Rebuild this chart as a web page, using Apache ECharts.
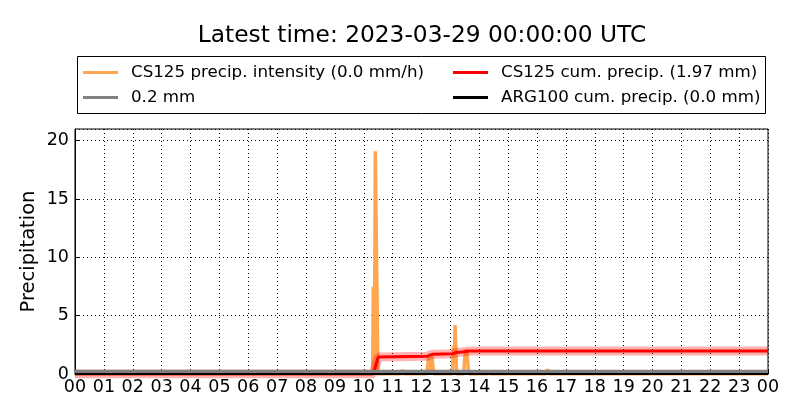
<!DOCTYPE html>
<html>
<head>
<meta charset="utf-8">
<script src="https://cdn.jsdelivr.net/npm/echarts@6/dist/echarts.min.js"></script>
<style>
html,body{margin:0;padding:0;background:#fff;}
#chart{width:800px;height:420px;}
</style>
</head>
<body>
<div id="chart"></div>
<script>
// ---- data ----
const hourLabels = ['00','01','02','03','04','05','06','07','08','09','10','11','12','13','14','15','16','17','18','19','20','21','22','23','00'];
const yTicks = [0, 5, 10, 15, 20];

const intensityHours  = [0, 10.31, 10.33, 10.37, 10.40, 10.45, 10.49, 11.30, 11.35, 11.40, 12.18, 12.26, 12.31, 12.36, 12.42, 13.07, 13.11, 13.14, 13.16, 13.18, 13.22, 13.46, 13.52, 13.58, 13.63, 14.30, 14.34, 14.38, 16.32, 16.37, 16.42, 24];
const intensityValues = [0, 0,     7.5,   0.3,   19.1,  19.1,  0,     0,     0.35,  0,     0,     1.6,   0.3,   1.55,  0,     0,     2.4,   1.0,   4.2,   4.2,   0,     0,     2.1,   1.8,   0,     0,     0.3,   0,     0,     0.4,   0,     0];

const cumHours  = [0, 10.33, 10.40, 10.50, 12.20, 12.28, 12.40, 13.10, 13.20, 13.50, 13.62, 24];
const cumValues = [0, 0,     0.6,   1.45,  1.52,  1.62,  1.70,  1.74,  1.85,  1.90,  1.97,  1.97];

const thresholdHours = [0, 24];
const thresholdValues = [0.2, 0.2];
const argHours = [0, 24];
const argValues = [0, 0];

const names = {
  intensity: 'CS125 precip. intensity (0.0 mm/h)',
  threshold: '0.2 mm',
  cum: 'CS125 cum. precip. (1.97 mm)',
  arg: 'ARG100 cum. precip. (0.0 mm)'
};

function pairs(xs, ys) { return xs.map((x, i) => [x, ys[i]]); }

const FONT = 'DejaVu Sans';
const chart = echarts.init(document.getElementById('chart'), null, {renderer: 'canvas'});

const legendCommon = {
  orient: 'vertical',
  icon: 'rect',
  itemWidth: 35,
  itemHeight: 3,
  itemGap: 8,
  padding: 0,
  textStyle: {fontFamily: FONT, fontSize: 16.7, color: '#000', padding: [0, 0, 0, 8]},
  selectedMode: false
};

chart.setOption({
  animation: false,
  backgroundColor: '#fff',
  title: {
    text: 'Latest time: 2023-03-29 00:00:00 UTC',
    left: 422, top: 24, textAlign: 'center', padding: 0,
    textStyle: {fontFamily: FONT, fontSize: 23.3, fontWeight: 'normal', color: '#000'}
  },
  graphic: [{
    type: 'rect', left: 77, top: 56, z: 0,
    shape: {width: 688, height: 57},
    style: {fill: '#fff', stroke: '#000', lineWidth: 1}
  }],
  legend: [
    Object.assign({left: 83, top: 64, data: [names.intensity, names.threshold]}, legendCommon),
    Object.assign({left: 453, top: 64, data: [names.cum, names.arg]}, legendCommon)
  ],
  grid: {left: 75, right: 32, top: 129, bottom: 46, show: true, borderColor: '#000', borderWidth: 1, backgroundColor: 'transparent'},
  xAxis: {
    type: 'value', min: 0, max: 24, interval: 1,
    axisLine: {show: true, lineStyle: {color: '#000'}},
    axisTick: {show: true, inside: true, length: 4, lineStyle: {color: '#000'}},
    axisLabel: {fontFamily: FONT, fontSize: 17.5, color: '#000', margin: 4, formatter: v => hourLabels[Math.round(v)]},
    splitLine: {show: true, lineStyle: {color: '#000', type: [1, 3], width: 1}}
  },
  yAxis: {
    type: 'value', min: 0, max: 21, interval: 5,
    name: 'Precipitation', nameLocation: 'middle', nameGap: 36, nameRotate: 90, nameMoveOverlap: false,
    nameTextStyle: {fontFamily: FONT, fontSize: 19.5, color: '#000'},
    axisLine: {show: true, lineStyle: {color: '#000'}},
    axisTick: {show: true, inside: true, length: 4, lineStyle: {color: '#000'}},
    axisLabel: {fontFamily: FONT, fontSize: 17.5, color: '#000', margin: 6, showMaxLabel: false,
      formatter: v => (yTicks.indexOf(v) >= 0 ? String(v) : '')},
    splitLine: {show: true, lineStyle: {color: '#000', type: [1, 3], width: 1}}
  },
  series: [
    {name: names.intensity, type: 'line', data: pairs(intensityHours, intensityValues), symbol: 'none', z: 2,
      color: '#ffa64f', lineStyle: {color: '#ffa64f', width: 3.5}},
    {name: 'cumband', type: 'line', data: pairs(cumHours, cumValues), symbol: 'none', z: 3,
      color: 'rgba(255,0,0,0.3)', lineStyle: {color: 'rgba(255,0,0,0.3)', width: 9}},
    {name: names.cum, type: 'line', data: pairs(cumHours, cumValues), symbol: 'none', z: 4,
      color: '#ff0000', lineStyle: {color: '#ff0000', width: 3}},
    {name: names.threshold, type: 'line', data: pairs(thresholdHours, thresholdValues), symbol: 'none', z: 6,
      color: '#808080', lineStyle: {color: '#808080', width: 4}},
    {name: names.arg, type: 'line', data: pairs(argHours, argValues), symbol: 'none', z: 7, clip: false,
      color: '#000', lineStyle: {color: '#000', width: 2}}
  ]
});
</script>
</body>
</html>
